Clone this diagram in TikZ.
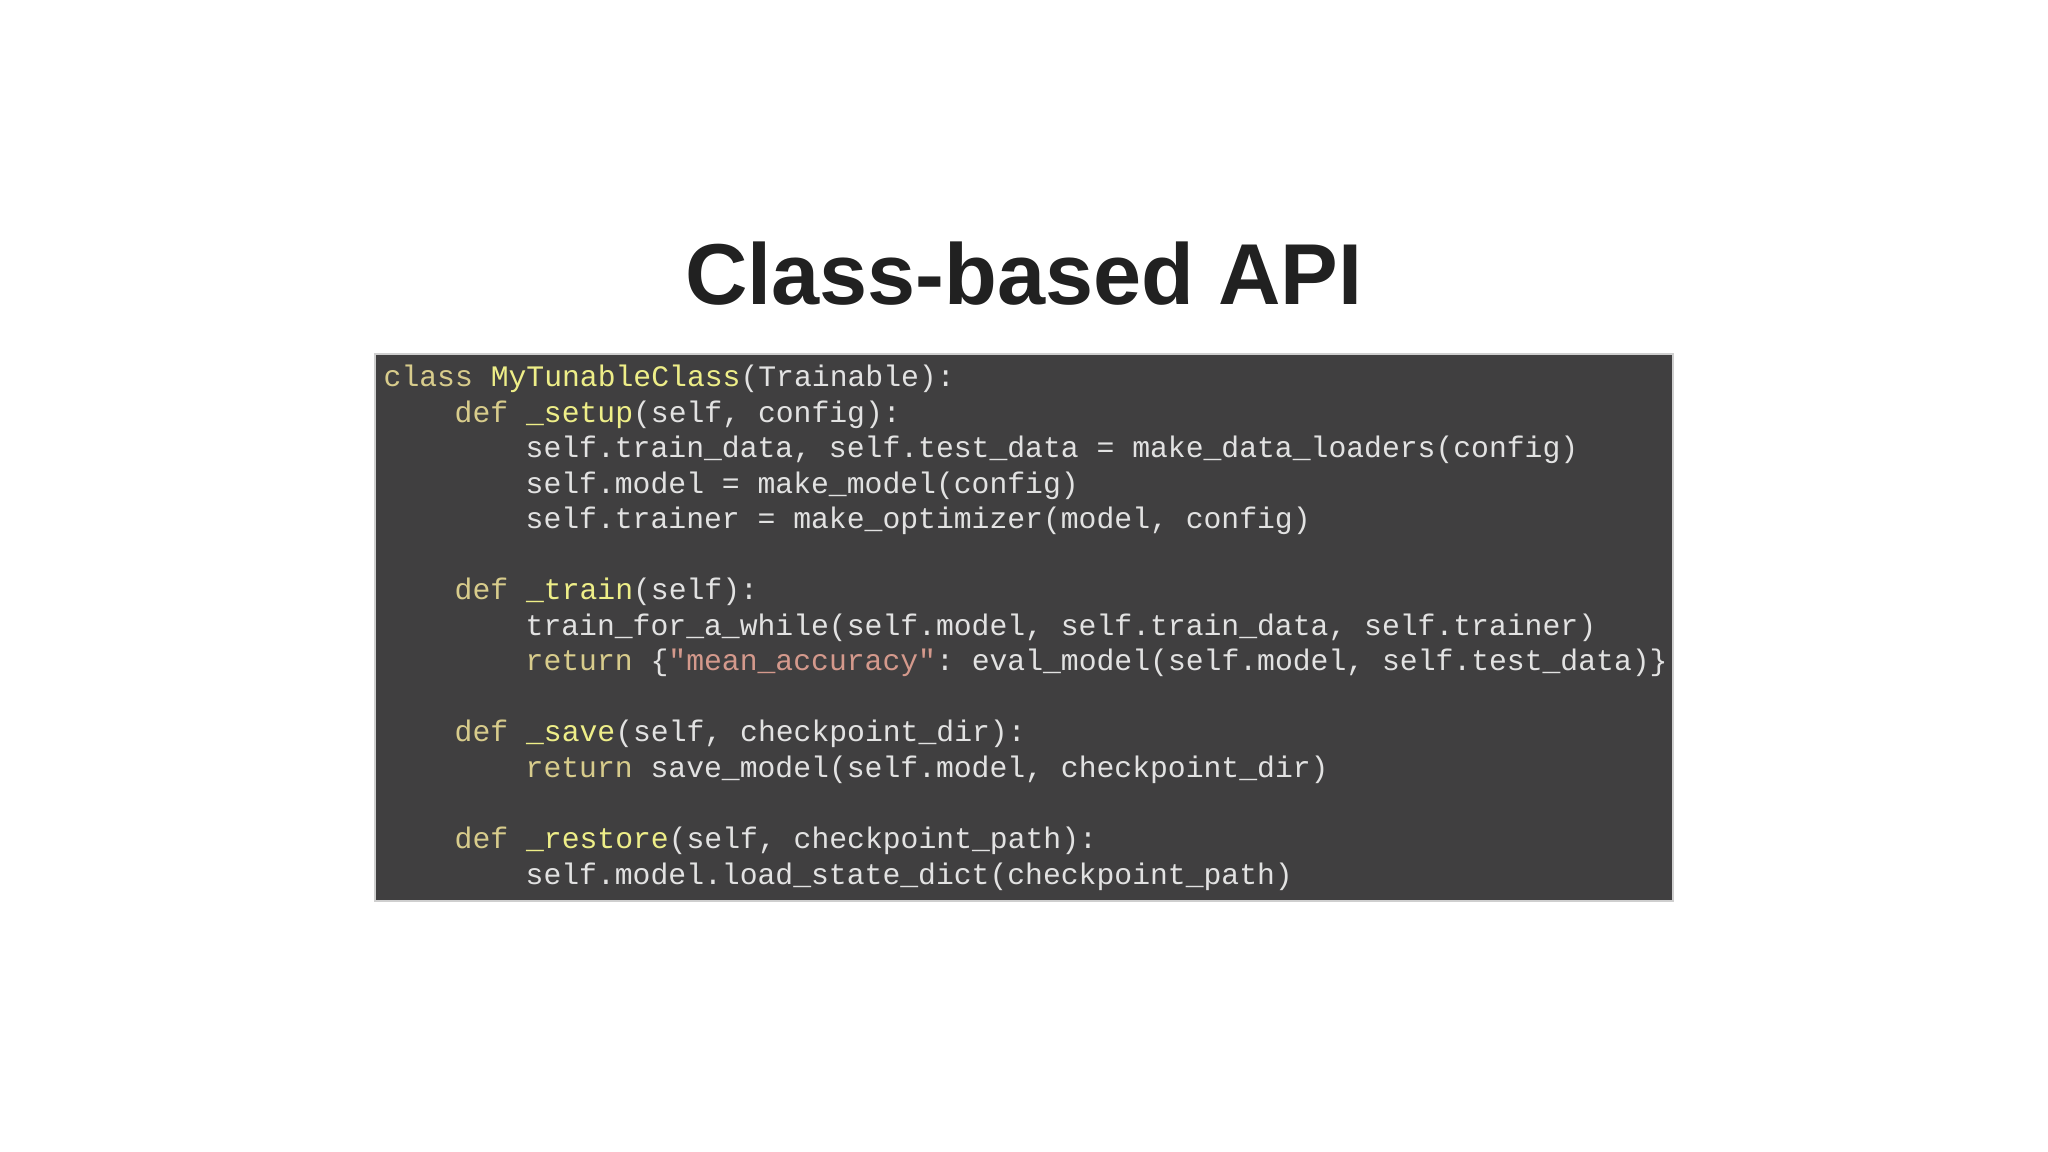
\documentclass[tikz,border=0pt]{standalone}
\usepackage{fontspec}
\setmainfont{Liberation Sans}
\setmonofont{Liberation Mono}
\usetikzlibrary{positioning}
\definecolor{codebg}{HTML}{403F40}
\definecolor{codefg}{HTML}{E2E2E2}
\definecolor{kw}{HTML}{D8CC8C}
\definecolor{fn}{HTML}{EEEE88}
\definecolor{str}{HTML}{D4998C}
\newcommand{\kw}[1]{\textcolor{kw}{#1}}
\newcommand{\fn}[1]{\textcolor{fn}{#1}}
\newcommand{\str}[1]{\textcolor{str}{#1}}
\begin{document}
\begin{tikzpicture}
\tikzset{L/.style={anchor=base west,inner sep=0pt,text=codefg,font=\ttfamily\fontsize{8.46pt}{10pt}\selectfont}}
\tikzset{T/.style={font=\bfseries\fontsize{24.6pt}{28pt}\selectfont,text=black!87,inner sep=0pt,anchor=base}}

  \useasboundingbox (0,0) rectangle (20.48,-11.52);
  \fill[white] (0,0) rectangle (20.48,-11.52);
  \node[T] (title) at (10.24,-3.05) {Class-based API};

  \draw[codebg!25!white,fill=codebg,line width=0.4pt] (3.75,-3.54) rectangle (16.73,-9.01);

  % one line of code per node
  \node[L] (l1) at (3.83,-3.87) {\kw{class} \fn{MyTunableClass}(Trainable):};
  \node[L] (l2) at (4.54,-4.225) {\kw{def} \fn{\_setup}(self, config):};
  \node[L] (l3) at (5.25,-4.58) {self.train\_data, self.test\_data = make\_data\_loaders(config)};
  \node[L] (l4) at (5.25,-4.935) {self.model = make\_model(config)};
  \node[L] (l5) at (5.25,-5.29) {self.trainer = make\_optimizer(model, config)};

  \node[L] (l7) at (4.54,-6.00) {\kw{def} \fn{\_train}(self):};
  \node[L] (l8) at (5.25,-6.355) {train\_for\_a\_while(self.model, self.train\_data, self.trainer)};
  \node[L] (l9) at (5.25,-6.71) {\kw{return} \{\str{"mean\_accuracy"}: eval\_model(self.model, self.test\_data)\}};

  \node[L] (l11) at (4.54,-7.42) {\kw{def} \fn{\_save}(self, checkpoint\_dir):};
  \node[L] (l12) at (5.25,-7.775) {\kw{return} save\_model(self.model, checkpoint\_dir)};

  \node[L] (l14) at (4.54,-8.485) {\kw{def} \fn{\_restore}(self, checkpoint\_path):};
  \node[L] (l15) at (5.25,-8.84) {self.model.load\_state\_dict(checkpoint\_path)};
\end{tikzpicture}
\end{document}
